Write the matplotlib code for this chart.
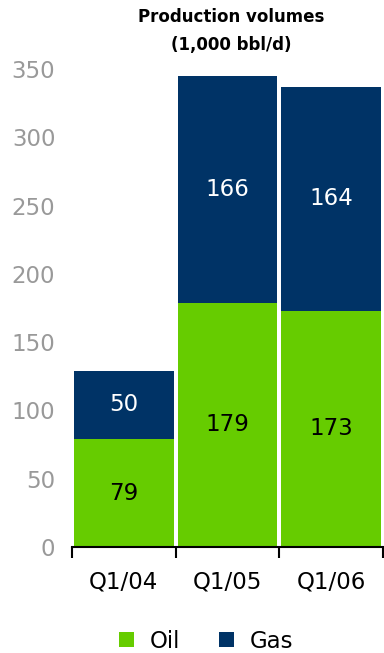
import matplotlib
matplotlib.use("Agg")
import matplotlib.pyplot as plt
from matplotlib.patches import Patch
import numpy as np

plt.rcParams['font.family'] = ['DejaVu Sans']

quarters = ["Q1/04", "Q1/05", "Q1/06"]
oil = [79, 179, 173]
gas = [50, 166, 164]
y_ticks = [0, 50, 100, 150, 200, 250, 300, 350]

oil_color = "#66CC00"
gas_color = "#003366"

fig = plt.figure(figsize=(3.84, 6.53), dpi=100)
ax = fig.add_axes([72 / 384, 106 / 653, 311 / 384, 478 / 653])

x = np.arange(len(quarters))
w = 0.96
ax.bar(x, oil, width=w, color=oil_color, linewidth=0)
ax.bar(x, gas, width=w, bottom=oil, color=gas_color, linewidth=0)

for xi, o, g in zip(x, oil, gas):
    ax.text(xi, o / 2, f"{o}", ha="center", va="center", fontsize=16.5, color="black")
    ax.text(xi, o + g / 2, f"{g}", ha="center", va="center", fontsize=16.5, color="white")

ax.set_xlim(-0.5, len(quarters) - 0.5)
ax.set_ylim(0, 350)

for s in ["top", "right", "left"]:
    ax.spines[s].set_visible(False)
ax.spines["bottom"].set_color("black")
ax.spines["bottom"].set_linewidth(1.5)

ax.set_yticks(y_ticks)
ax.set_yticklabels([str(t) for t in y_ticks], fontsize=16.5, color="#999999")
ax.tick_params(axis="y", length=0, pad=12)

# category boundaries carry the tick marks; labels sit at bar centres
ax.set_xticks(np.arange(len(quarters) + 1) - 0.5)
ax.set_xticklabels([])
ax.set_xticks(x, minor=True)
ax.set_xticklabels(quarters, minor=True, fontsize=16.5, color="black")
ax.tick_params(axis="x", which="major", direction="out", length=8, width=1.5, color="black")
ax.tick_params(axis="x", which="minor", length=0, pad=17)

fig.text(231 / 384, 1 - 17 / 653, "Production volumes", ha="center", va="center",
         fontsize=12, fontweight="bold", color="black")
fig.text(231 / 384, 1 - 45 / 653, "(1,000 bbl/d)", ha="center", va="center",
         fontsize=12, fontweight="bold", color="black")

handles = [Patch(facecolor=oil_color, label="Oil"), Patch(facecolor=gas_color, label="Gas")]
fig.legend(handles=handles, loc="center", bbox_to_anchor=(206 / 384, 1 - 641 / 653),
           ncol=2, frameon=False, fontsize=16.5, handlelength=0.65, handleheight=0.65,
           handletextpad=0.7, columnspacing=1.7)

fig.savefig("out.png", dpi=100)
